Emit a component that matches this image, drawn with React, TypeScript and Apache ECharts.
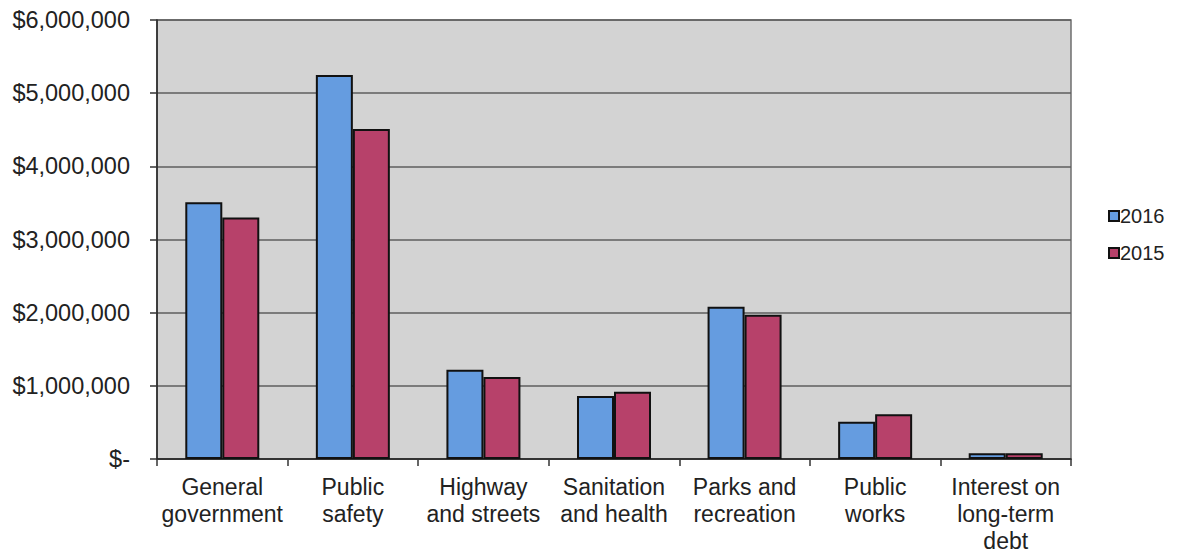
import React, { useEffect, useRef } from "react";
import * as echarts from "echarts";

const categories = [
  "General\ngovernment",
  "Public\nsafety",
  "Highway\nand streets",
  "Sanitation\nand health",
  "Parks and\nrecreation",
  "Public\nworks",
  "Interest on\nlong-term\ndebt",
];
const values2016 = [3510000, 5250000, 1220000, 860000, 2080000, 510000, 80000];
const values2015 = [3300000, 4510000, 1120000, 920000, 1970000, 610000, 80000];
const seriesNames = ["2016", "2015"];

const FONT = "'Liberation Sans', Arial, sans-serif";

export default function App() {
  const ref = useRef<HTMLDivElement>(null);
  useEffect(() => {
    if (!ref.current) return;
    const chart = echarts.init(ref.current, undefined, { renderer: "svg" });
    chart.setOption({
      animation: false,
      backgroundColor: "#ffffff",
      textStyle: { fontFamily: FONT },
      grid: {
        left: 157,
        top: 20,
        right: 106,
        bottom: 98,
        show: true,
        backgroundColor: "#d3d3d3",
        borderColor: "#6f6f6f",
        borderWidth: 1.5,
      },
      legend: {
        orient: "vertical",
        left: 1103,
        top: 201,
        itemWidth: 10,
        itemHeight: 10,
        itemGap: 17,
        icon: "rect",
        textStyle: { fontSize: 20, color: "#222", fontFamily: FONT, padding: [0, 0, 0, -4] },
        data: seriesNames,
      },
      xAxis: {
        type: "category",
        data: categories,
        axisLine: { lineStyle: { color: "#222", width: 1.5 } },
        axisTick: { show: true, length: 7, lineStyle: { color: "#333", width: 1.5 } },
        axisLabel: {
          fontSize: 23,
          lineHeight: 27,
          color: "#222",
          fontFamily: FONT,
          margin: 14,
          interval: 0,
        },
      },
      yAxis: {
        type: "value",
        min: 0,
        max: 6000000,
        interval: 1000000,
        axisLine: { show: true, lineStyle: { color: "#222", width: 1.5 } },
        axisTick: { show: true, length: 7, lineStyle: { color: "#333", width: 1.5 } },
        splitLine: { show: true, lineStyle: { color: "#5e5e5e", width: 1.5 } },
        axisLabel: {
          fontSize: 23.5,
          color: "#222",
          fontFamily: FONT,
          margin: 27,
          formatter: (v: number) =>
            v === 0 ? "$-" : "$" + v.toLocaleString("en-US"),
        },
      },
      series: [
        {
          name: seriesNames[0],
          type: "bar",
          data: values2016,
          barWidth: 37,
          barGap: "0%",
          itemStyle: { color: "#659ce0", borderColor: "#111", borderWidth: 2 },
        },
        {
          name: seriesNames[1],
          type: "bar",
          data: values2015,
          barWidth: 37,
          barGap: "0%",
          itemStyle: { color: "#b7416a", borderColor: "#111", borderWidth: 2 },
        },
      ],
    });
    return () => chart.dispose();
  }, []);
  return (
    <div
      ref={ref}
      style={{ position: "absolute", left: 0, top: 0, width: 1177, height: 557 }}
    />
  );
}
